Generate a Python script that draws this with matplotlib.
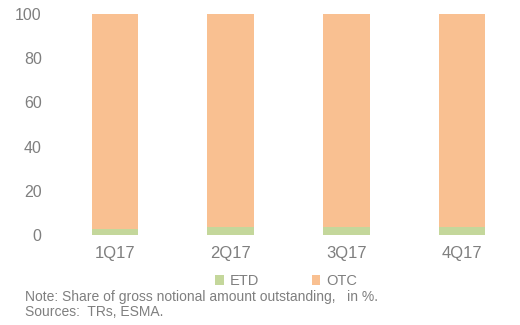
import matplotlib.pyplot as plt
import numpy as np

plt.rcParams['font.family'] = ['Liberation Sans', 'DejaVu Sans']

# chart data
quarters = ['1Q17', '2Q17', '3Q17', '4Q17']
etd = [2.5, 3.4, 3.4, 3.4]
otc = [97.5, 96.6, 96.6, 96.6]

grey = '#7f7f7f'
green = '#c4d79b'
orange = '#f9c091'

fig = plt.figure(figsize=(5.2, 3.25), dpi=100)
ax = fig.add_axes([0.1096, 0.278, 0.8904, 0.678])

x = np.arange(len(quarters))
ax.bar(x, etd, width=0.4, color=green, label='ETD')
ax.bar(x, otc, width=0.4, bottom=etd, color=orange, label='OTC')

ax.set_xlim(-0.5, len(quarters) - 0.5)
ax.set_ylim(0, 100)
ax.set_yticks([0, 20, 40, 60, 80, 100])
ax.set_xticks(x)
ax.set_xticklabels(quarters)

for s in ax.spines.values():
    s.set_visible(False)
ax.tick_params(axis='both', length=0, labelcolor=grey)
ax.tick_params(axis='y', pad=11, labelsize=11.5)
ax.tick_params(axis='x', pad=8, labelsize=12)

fig.legend(loc='center', bbox_to_anchor=(0.55, 0.135), ncol=2, frameon=False,
           fontsize=10.5, labelcolor=grey, handlelength=0.6, handleheight=0.6,
           handletextpad=0.4, columnspacing=3.6)

fig.text(0.049, 0.087, 'Note: Share of gross notional amount outstanding,   in %.',
         fontsize=10, color=grey, va='center')
fig.text(0.049, 0.041, 'Sources:  TRs, ESMA.', fontsize=10, color=grey, va='center')

fig.savefig('out.png', dpi=100)
